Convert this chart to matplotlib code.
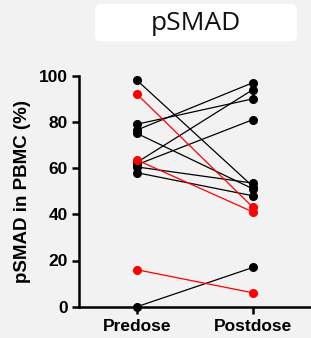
import matplotlib
matplotlib.use("Agg")
import matplotlib.pyplot as plt
from matplotlib.patches import FancyBboxPatch

# Paired pSMAD values (%) per subject, predose -> postdose
groups = ["Predose", "Postdose"]
black_pre = [98, 79, 76.5, 75, 62.5, 61.5, 60.5, 58, 0]
black_post = [52, 90, 97, 51, 94, 81, 53.5, 48, 17]
red_pre = [92, 63.5, 16]
red_post = [43, 41, 6]
yticks = [0, 20, 40, 60, 80, 100]

W, H = 311, 338
fig = plt.figure(figsize=(W / 100, H / 100), dpi=100)
fig.patch.set_facecolor("#f2f2f2")

ax = fig.add_axes([79 / W, (H - 306.7) / H, 1 - 79 / W, (306.7 - 75.7) / H])
ax.set_facecolor("#f2f2f2")

x = [0, 1]
for pre, post in zip(black_pre, black_post):
    ax.plot(x, [pre, post], color="black", linewidth=0.9, marker="o",
            markersize=5.5, clip_on=False, zorder=3)
for pre, post in zip(red_pre, red_post):
    ax.plot(x, [pre, post], color="#ff0000", linewidth=0.9, marker="o",
            markersize=5.5, clip_on=False, zorder=4)

ax.set_xlim(-0.5, 1.5)
ax.set_ylim(0, 100)
ax.set_xticks(x)
ax.set_xticklabels(groups)
ax.set_yticks(yticks)

for s in ["top", "right"]:
    ax.spines[s].set_visible(False)
for s in ["left", "bottom"]:
    ax.spines[s].set_linewidth(1.8)

ax.tick_params(axis="both", width=1.8, length=5)
ax.tick_params(axis="y", pad=3, labelsize=12.5)
ax.tick_params(axis="x", pad=4, labelsize=12.5)
for lab in ax.get_xticklabels() + ax.get_yticklabels():
    lab.set_fontfamily("Liberation Sans")
    lab.set_fontweight("bold")

ax.set_ylabel("pSMAD in PBMC (%)", fontsize=13.5, fontweight="bold",
              fontfamily="Liberation Sans", labelpad=6)

# title box
box = FancyBboxPatch((95 / W, (H - 41.5) / H), (297 - 95) / W, 37.5 / H,
                     boxstyle="round,pad=0,rounding_size=0.02",
                     transform=fig.transFigure, facecolor="white",
                     edgecolor="none")
fig.patches.append(box)
fig.text(196 / W, (H - 23) / H, "pSMAD", ha="center", va="center",
         fontsize=19, fontfamily="Open Sans", color="#111111")

fig.savefig("out.png", dpi=100, facecolor=fig.get_facecolor())
